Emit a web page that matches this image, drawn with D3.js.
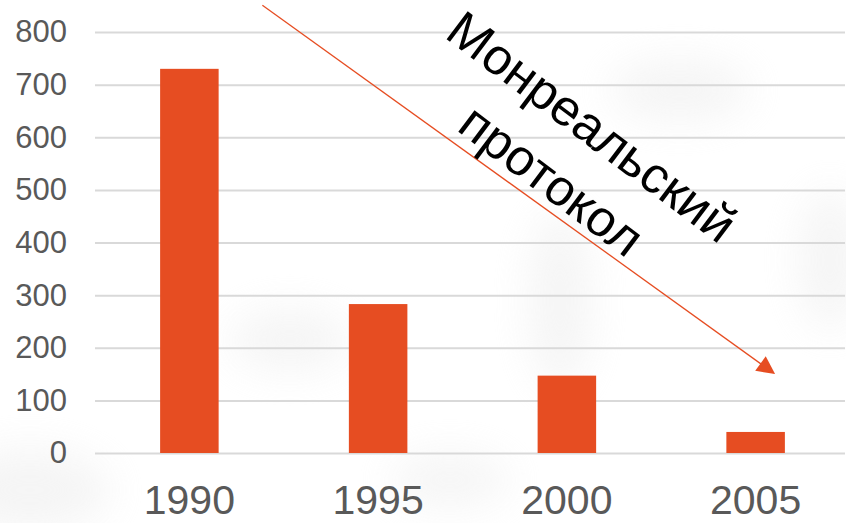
<!DOCTYPE html>
<html>
<head>
<meta charset="utf-8">
<script src="https://cdn.jsdelivr.net/npm/d3@7"></script>
<style>
  body { margin: 0; background: #fff; }
  svg { display: block; font-family: "Liberation Sans", Arial, sans-serif; }
</style>
</head>
<body>
<script>
// data
var years = ["1990", "1995", "2000", "2005"];
var values = [730, 283, 147, 40];
var yTicks = [0, 100, 200, 300, 400, 500, 600, 700, 800];
var noteLines = ["Монреальский", "протокол"];

var width = 846, height = 523;

var svg = d3.select("body").append("svg")
  .attr("width", width).attr("height", height);

// faint grey blotches standing in for the washed-out map behind the chart
var defs = svg.append("defs");
defs.append("filter").attr("id", "blur")
  .attr("x", "-100%").attr("y", "-100%").attr("width", "300%").attr("height", "300%")
  .append("feGaussianBlur").attr("stdDeviation", 20);
var blotches = [[30, 490, 80, 40], [290, 340, 60, 30], [560, 300, 30, 90], [680, 90, 70, 30], [830, 260, 30, 70], [450, 480, 60, 25]];
svg.append("g").attr("id", "background")
  .selectAll("ellipse").data(blotches).enter().append("ellipse")
  .attr("cx", function (d) { return d[0]; })
  .attr("cy", function (d) { return d[1]; })
  .attr("rx", function (d) { return d[2]; })
  .attr("ry", function (d) { return d[3]; })
  .style("fill", "#e8e8e8")
  .style("opacity", 0.45)
  .attr("filter", "url(#blur)");

var x = d3.scaleBand()
  .domain(years)
  .range([95, 850])
  .paddingInner(0.69)
  .paddingOuter(0.345);

var y = d3.scaleLinear()
  .domain([0, 800])
  .range([453, 32]);

// gridlines + y labels
var yAxis = svg.append("g").attr("id", "yAxis")
  .attr("transform", "translate(95,0)")
  .call(d3.axisLeft(y).tickValues(yTicks).tickSize(-750).tickPadding(28).tickFormat(d3.format("d")));
yAxis.select(".domain").remove();
yAxis.selectAll(".tick line").style("stroke", "#d9d9d9").style("stroke-width", 2);
yAxis.selectAll(".tick text")
  .style("font-size", "31px").style("fill", "#595959")
  .style("font-family", "'Liberation Sans', Arial, sans-serif");

// bars
svg.append("g").attr("id", "bars")
  .selectAll("rect")
  .data(values)
  .enter()
  .append("rect")
  .attr("x", function (d, i) { return x(years[i]); })
  .attr("width", x.bandwidth())
  .attr("y", function (d) { return y(d); })
  .attr("height", function (d) { return y(0) - y(d); })
  .style("fill", "#e64d22");

// x labels
var xAxis = svg.append("g").attr("id", "xAxis")
  .attr("transform", "translate(0,453)")
  .call(d3.axisBottom(x).tickSize(0).tickPadding(32));
xAxis.select(".domain").remove();
xAxis.selectAll(".tick text")
  .style("font-size", "41px").style("fill", "#595959")
  .style("font-family", "'Liberation Sans', Arial, sans-serif");

// arrow from above 1990 down to 2005
var arrowFrom = { px: x("1990") + x.bandwidth() / 2 + 73, v: 851 };
var arrowTo = { px: x("2005") + x.bandwidth() / 2 + 18, v: 152 };

defs.append("marker")
  .attr("id", "head")
  .attr("viewBox", "0 0 10 10")
  .attr("refX", 9).attr("refY", 5)
  .attr("markerWidth", 20).attr("markerHeight", 18)
  .attr("markerUnits", "userSpaceOnUse")
  .attr("orient", "auto")
  .append("path").attr("d", "M0,0 L10,5 L0,10 Z")
  .style("fill", "#e64d22");

svg.append("line")
  .attr("x1", arrowFrom.px).attr("y1", y(arrowFrom.v))
  .attr("x2", arrowTo.px).attr("y2", y(arrowTo.v))
  .style("stroke", "#e64d22").style("stroke-width", 1.3)
  .attr("marker-end", "url(#head)");

// rotated note
var note = svg.append("text")
  .attr("transform", "translate(570,156) rotate(37)")
  .attr("text-anchor", "middle")
  .style("font-size", "51px")
  .style("fill", "#000");
note.selectAll("tspan").data(noteLines).enter().append("tspan")
  .attr("x", 0)
  .attr("dy", function (d, i) { return i === 0 ? -19 : 67; })
  .text(function (d) { return d; });
</script>
</body>
</html>
